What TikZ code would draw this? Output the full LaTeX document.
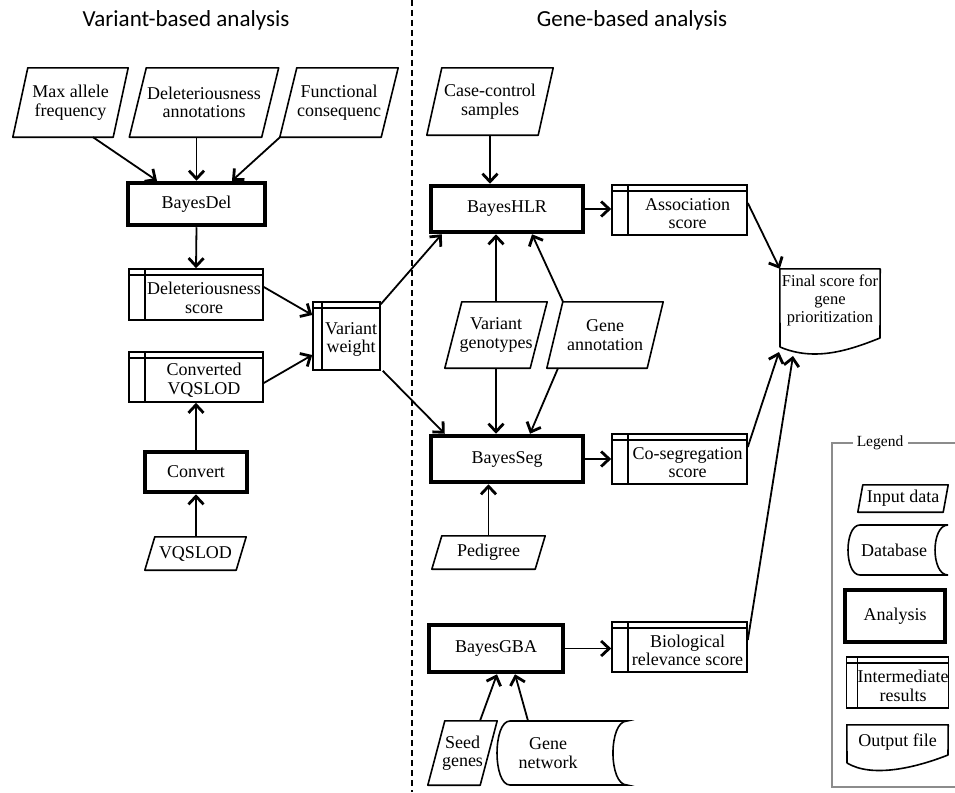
\documentclass[tikz,border=0pt]{standalone}
\usepackage{fontspec}
\setmainfont{Liberation Serif}
\newfontfamily\titlefont{Carlito}
\usetikzlibrary{arrows.meta}
\newcommand\paral[2]{\draw[line width=1.6pt,line join=round] ([xshift=#2]#1.north west) -- ([xshift=#2]#1.north east) -- ([xshift=-#2]#1.south east) -- ([xshift=-#2]#1.south west) -- cycle;}
\newcommand\irl[3]{\rule{0pt}{19pt}\hspace*{#1}#2\\\hspace*{#1}#3}
\begin{document}
\begin{tikzpicture}[x=1pt,y=-1pt,
  base/.style={font=\fontsize{18}{18.5}\selectfont, align=center, inner sep=0pt},
  inbox/.style={base},
  anbox/.style={base, draw, line width=4.5pt},
  irbox/.style={base, draw, line width=1.6pt,
    path picture={\draw[line width=1.6pt] ([xshift=#1]path picture bounding box.north west) -- ([xshift=#1]path picture bounding box.south west);
      \draw[line width=1.6pt] ([yshift=-6pt]path picture bounding box.north west) -- ([yshift=-6pt]path picture bounding box.north east);}},
  irbox/.default=16pt,
  arr/.style={line width=1.8pt, -{Straight Barb[length=8pt,width=15pt,line width=2.8pt]}},
  ttl/.style={font=\titlefont\fontsize{23}{26}\selectfont, inner sep=0pt, anchor=base}]
\useasboundingbox (0,0) rectangle (955,792);

% titles and divider
\node[ttl] (t1) at (186,27) {Variant-based analysis};
\node[ttl] (t2) at (632,27) {Gene-based analysis};
\coordinate (dtop) at (412,0);
\coordinate (dbot) at (412,792);
\draw[line width=1.5pt, dash pattern=on 6pt off 4pt] (dtop) -- (dbot);

% variant-based
\node[inbox, minimum width=100, minimum height=69] (maf) at (70.5,102.5) {Max allele\\frequency};
\node[inbox, minimum width=132, minimum height=69] (dann) at (204,102.5) {Deleteriousness\\annotations};
\node[inbox, minimum width=101, minimum height=69] (func) at (339,102.5) {Functional\\consequenc};
\node[anbox, minimum width=137, minimum height=42] (bdel) at (196.5,204) {BayesDel};
\node[irbox, minimum width=134, minimum height=51] (dscore) at (196,294.5) {\irl{16pt}{Deleteriousness}{score}};
\node[irbox, minimum width=134, minimum height=50] (cvq) at (196,377) {\irl{16pt}{Converted}{VQSLOD}};
\node[anbox, minimum width=102, minimum height=40] (conv) at (196,472) {Convert};
\node[inbox, minimum width=91, minimum height=33] (vq) at (195.5,553.5) {VQSLOD};
\node[irbox=9pt, minimum width=67, minimum height=68] (vw) at (346.5,336) {\irl{9pt}{Variant}{weight}};

% gene-based
\node[inbox, minimum width=111, minimum height=67] (case) at (490,101.5) {Case-control\\samples};
\node[anbox, minimum width=152, minimum height=46] (hlr) at (507,209) {BayesHLR};
\node[irbox, minimum width=135, minimum height=50] (assoc) at (679.5,210) {\irl{16pt}{Association}{score}};
\node[inbox, minimum width=85, minimum height=66] (vgen) at (496,335) {Variant\\genotypes};
\node[inbox, minimum width=100, minimum height=66] (gann) at (605,335) {Gene\\annotation};
\node[anbox, minimum width=152, minimum height=46] (seg) at (507,459) {BayesSeg};
\node[irbox, minimum width=135, minimum height=50] (coseg) at (679.5,459) {\irl{16pt}{Co-segregation}{score}};
\node[inbox, minimum width=103, minimum height=33] (ped) at (488.5,552.5) {Pedigree};
\node[anbox, minimum width=134, minimum height=47] (gba) at (496,648.5) {BayesGBA};
\node[irbox, minimum width=135, minimum height=50] (bio) at (679.5,647) {\irl{16pt}{Biological}{relevance score}};
\node[inbox, minimum width=52, minimum height=64] (seed) at (462.5,753) {Seed\\genes};
\node[inbox, minimum width=100, minimum height=64] (gnet) at (548,753) {Gene\\network};
\node[inbox, font=\fontsize{16.5}{18}\selectfont, minimum width=100, minimum height=62] (final) at (830,300) {Final score for\\gene\\prioritization};
\coordinate (fin1) at (779,352);
\coordinate (fin2) at (793,356);

% shapes
\paral{maf}{7.5pt}
\paral{dann}{8.5pt}
\paral{func}{8.5pt}
\paral{vq}{5pt}
\paral{case}{7.5pt}
\paral{vgen}{8.5pt}
\paral{gann}{8pt}
\paral{ped}{5pt}
\paral{seed}{8.5pt}
\draw[line width=1.6pt] (510,721) -- (627,721) .. controls (608.3,721) and (608.3,785) .. (627,785) -- (510,785) .. controls (492.7,785) and (492.7,721) .. (510,721) -- cycle;
\draw[line width=1.6pt,line join=round] (780,347) -- (final.north west) -- (final.north east) -- (880,338) .. controls (850,350) and (815,362) .. (780,347);

% legend
\node[base, font=\fontsize{15.5}{17}\selectfont] (leg) at (880,443) {Legend};
\draw[black!45, line width=1.3pt] (853,443) -- (832,443) -- (832,787) -- (955,787);
\draw[black!45, line width=1.3pt] (908,443) -- (955,443);
\node[inbox, minimum width=85, minimum height=27] (lin) at (903,498.5) {Input data};
\paral{lin}{2.5pt}
\node[inbox, minimum width=80, minimum height=50] (ldb) at (894,550) {Database};
\draw[line width=1.6pt] (860,525) -- (948,525) .. controls (930.7,525) and (930.7,575) .. (948,575) -- (860,575) .. controls (844,575) and (844,525) .. (860,525) -- cycle;
\node[anbox, minimum width=100, minimum height=52] (lan) at (895,616) {Analysis};
\node[irbox=11pt, minimum width=101, minimum height=51] (lir) at (897.5,682.5) {\irl{11pt}{Intermediate}{results}};
\node[inbox, minimum width=101, minimum height=34] (lout) at (897.5,742) {Output file};
\draw[line width=1.6pt,line join=round] (847,763) -- (lout.north west) -- (lout.north east) -- (948,755) .. controls (915,768) and (872,778) .. (847,763);

% connectors
\draw[arr] ([xshift=22.5pt]maf.south) -- ([xshift=-39.5pt]bdel.north);
\draw[arr] (dann.south -| bdel.north) -- (bdel.north);
\draw[arr] ([xshift=-59pt]func.south) -- ([xshift=35.5pt]bdel.north);
\draw[arr] (bdel.south) -- (dscore.north);
\draw[arr] ([yshift=7.5pt]dscore.east) -- ([yshift=21pt]vw.west);
\draw[arr] ([yshift=-6pt]cvq.east) -- ([yshift=-19pt]vw.west);
\draw[arr] (conv.north) -- (cvq.south);
\draw[arr] (vq.north -| conv.south) -- (conv.south);
\draw[arr] ([yshift=-3pt]vw.north east) -- ([xshift=13pt]hlr.south west);
\draw[arr] ([xshift=2pt]vw.south east) -- ([xshift=16pt]seg.north west);
\draw[arr] (case.south) -- (case.south |- hlr.north);
\draw[arr] (vgen.north) -- (vgen.north |- hlr.south);
\draw[arr] ([xshift=-42pt]gann.north) -- ([xshift=25pt]hlr.south);
\draw[arr] (vgen.south) -- (vgen.south |- seg.north);
\draw[arr] ([xshift=-47pt]gann.south) -- ([xshift=23pt]seg.north);
\draw[arr] (ped.north) -- (ped.north |- seg.south);
\draw[arr] (hlr.east) -- (hlr.east -| assoc.west);
\draw[arr] (seg.east) -- (coseg.west);
\draw[arr] (gba.east) -- (gba.east -| bio.west);
\draw[arr] ([xshift=17.5pt]seed.north) -- ([xshift=1pt]gba.south);
\draw[arr] ([xshift=-20pt]gnet.north) -- ([xshift=19pt]gba.south);
\draw[arr] ([yshift=7pt]assoc.east) -- (final.north west);
\draw[arr] ([yshift=12pt]coseg.east) -- (fin1);
\draw[arr] ([yshift=7pt]bio.east) -- (fin2);
\end{tikzpicture}
\end{document}
